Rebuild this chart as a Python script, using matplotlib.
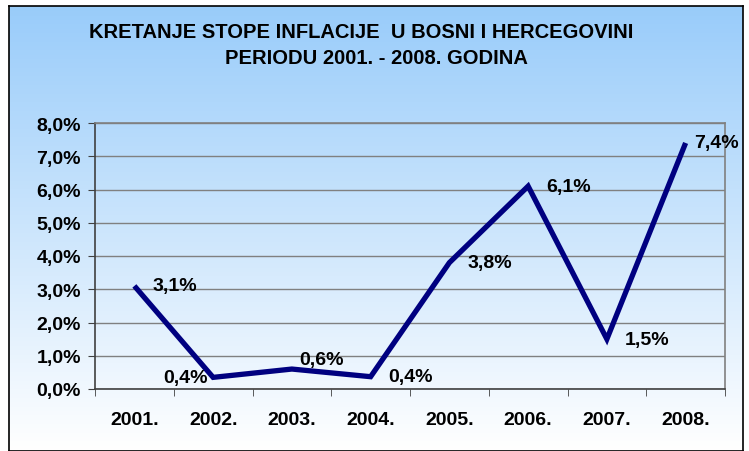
import numpy as np
import matplotlib
matplotlib.use("Agg")
import matplotlib.pyplot as plt

# data
years = ["2001.", "2002.", "2003.", "2004.", "2005.", "2006.", "2007.", "2008."]
inflation = [3.1, 0.35, 0.6, 0.37, 3.8, 6.1, 1.5, 7.4]
labels = ["3,1%", "0,4%", "0,6%", "0,4%", "3,8%", "6,1%", "1,5%", "7,4%"]
yticks = [0, 1, 2, 3, 4, 5, 6, 7, 8]
ytick_labels = ["0,0%", "1,0%", "2,0%", "3,0%", "4,0%", "5,0%", "6,0%", "7,0%", "8,0%"]

W, H = 749, 452
fig = plt.figure(figsize=(W / 100, H / 100), dpi=100)
fig.patch.set_facecolor("white")

# gradient background for the chart area
bg = fig.add_axes([9 / W, 0, (743 - 9) / W, (H - 7) / H])
grad = np.linspace(0, 1, 256).reshape(-1, 1)
top = np.array([0.60, 0.80, 0.98])
bot = np.array([1.0, 1.0, 1.0])
img = (top + (bot - top) * grad[..., None]).reshape(256, 1, 3)
bg.imshow(img, aspect="auto", extent=[0, 1, 0, 1], origin="upper")
bg.set_xlim(0, 1)
bg.set_ylim(0, 1)
bg.set_xticks([])
bg.set_yticks([])
for s in bg.spines.values():
    s.set_color("black")
    s.set_linewidth(1.2)

font = "Liberation Sans"
fig.text(361 / W, 1 - 32 / H, "KRETANJE STOPE INFLACIJE  U BOSNI I HERCEGOVINI",
         ha="center", va="center", fontsize=14.5, fontweight="bold", family=font)
fig.text(376 / W, 1 - 58 / H, "PERIODU 2001. - 2008. GODINA",
         ha="center", va="center", fontsize=14.5, fontweight="bold", family=font)

ax = fig.add_axes([95 / W, (H - 390) / H, (725 - 95) / W, (390 - 124) / H])
ax.patch.set_alpha(0)
x = np.arange(len(years))
ax.plot(x, inflation, color="#000080", linewidth=3.8, solid_joinstyle="miter",
        solid_capstyle="butt", zorder=3)

offsets = [(13, 0, "left"), (-4, 0, "right"), (5, 7, "left"), (13, 0, "left"),
           (13, 0, "left"), (13, 0, "left"), (13, 0, "left"), (6, 0, "left")]
for xi, yi, lab, (dx, dy, ha) in zip(x, inflation, labels, offsets):
    ax.annotate(lab, (xi, yi), xytext=(dx, dy), textcoords="offset points",
                ha=ha, va="center", fontsize=14, fontweight="bold",
                family=font, annotation_clip=False, zorder=4)

ax.set_xlim(-0.5, len(years) - 0.5)
ax.set_ylim(0, 8)
ax.set_yticks(yticks)
ax.set_yticklabels(ytick_labels, fontsize=14, fontweight="bold", family=font)
ax.set_xticks(x)
ax.set_xticklabels(years, fontsize=14, fontweight="bold", family=font)
ax.set_xticks(np.arange(-0.5, len(years), 1), minor=True)
ax.tick_params(axis="x", which="major", length=0, pad=16)
ax.tick_params(axis="x", which="minor", length=5, color="#404040", direction="out")
ax.tick_params(axis="y", length=5, color="#404040", direction="out", pad=5)
ax.grid(axis="y", color="#808080", linewidth=1)
ax.set_axisbelow(True)
for s in ax.spines.values():
    s.set_color("#808080")
    s.set_linewidth(1.2)
ax.spines["left"].set_color("#404040")
ax.spines["bottom"].set_color("#404040")

fig.savefig("out.png", dpi=100)
